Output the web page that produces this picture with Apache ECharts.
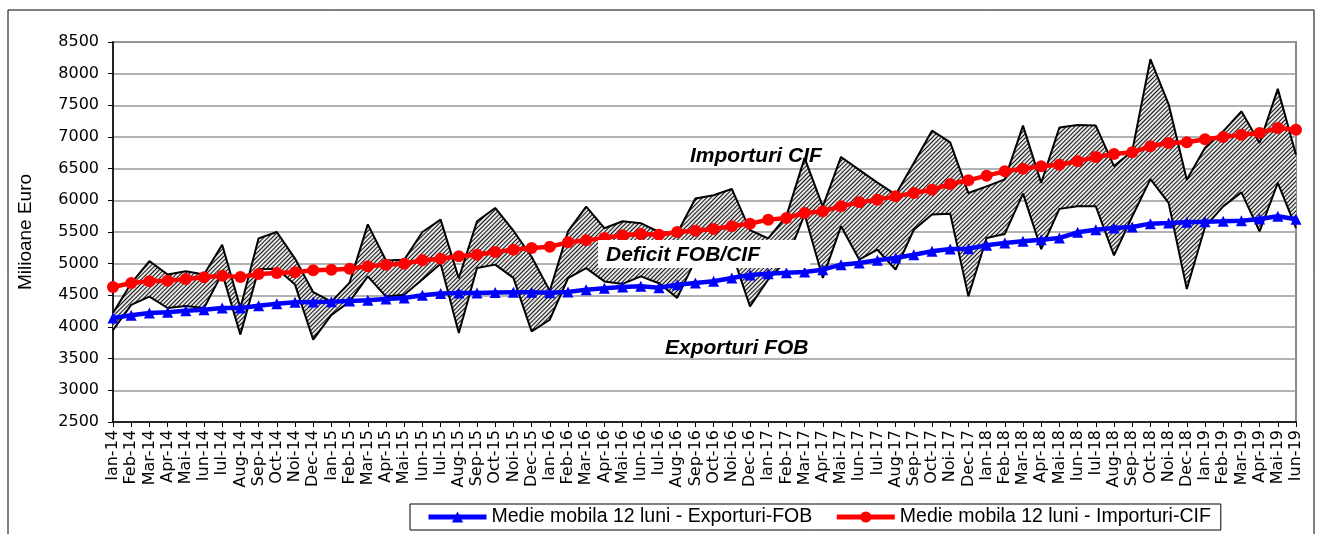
<!DOCTYPE html>
<html>
<head>
<meta charset="utf-8">
<script src="https://cdn.jsdelivr.net/npm/echarts@6/dist/echarts.min.js"></script>
<style>
  html, body { margin: 0; padding: 0; background: #fff; }
  #chart { width: 1320px; height: 534px; }
</style>
</head>
<body>
<div id="chart"></div>
<script>
// luni: Ian-14 ... Iun-19
var luni = ['Ian', 'Feb', 'Mar', 'Apr', 'Mai', 'Iun', 'Iul', 'Aug', 'Sep', 'Oct', 'Noi', 'Dec'];
var ani = ['14', '15', '16', '17', '18', '19'];
var categorii = [];
ani.forEach(function (an) {
    luni.forEach(function (l) { categorii.push(l + '-' + an); });
});
categorii = categorii.slice(0, 66);

// valori lunare, milioane euro
var importuri = [
    4220, 4690, 5040, 4830, 4880, 4830, 5300, 4300, 5400, 5500, 5080, 4550,
    4400, 4700, 5620, 5050, 5060, 5500, 5695, 4770, 5670, 5880, 5520, 5110,
    4570, 5510, 5900, 5560, 5670, 5640, 5500, 5480, 6030, 6080, 6180, 5530,
    5400, 5750, 6670, 5900, 6685, 6480, 6280, 6090, 6590, 7100, 6915, 6115,
    6220, 6330, 7180, 6275, 7150, 7190, 7180, 6540, 6775, 8230, 7520, 6325,
    6830, 7090, 7405, 6905, 7760, 6720
];
var exporturi = [
    3950, 4350, 4480, 4300, 4330, 4300, 4850, 3880, 4910, 4920, 4670, 3800,
    4190, 4400, 4800, 4480, 4510, 4750, 5000, 3905, 4930, 4985, 4775, 3930,
    4115, 4770, 4930, 4720, 4680, 4800, 4690, 4460, 5060, 5050, 5180, 4325,
    4750, 5050, 5780, 4775, 5590, 5065, 5220, 4905, 5535, 5775, 5790, 4485,
    5405, 5470, 6105, 5230, 5865, 5905, 5905, 5130, 5745, 6335, 5960, 4600,
    5580, 5905, 6125, 5510, 6275, 5565
];

// medii mobile 12 luni
var medieExport = [
    4142, 4184, 4221, 4232, 4258, 4274, 4300, 4300, 4337, 4368, 4390, 4395,
    4400, 4410, 4421, 4442, 4458, 4500, 4530, 4535, 4537, 4545, 4547, 4547,
    4540, 4553, 4590, 4611, 4632, 4642, 4621, 4668, 4695, 4721, 4774, 4821,
    4840, 4855, 4868, 4905, 4984, 5011, 5053, 5090, 5142, 5195, 5232, 5235,
    5290, 5326, 5353, 5379, 5405, 5495, 5537, 5563, 5579, 5632, 5642, 5653,
    5660, 5668, 5679, 5705, 5750, 5700
];
var medieImport = [
    4632, 4695, 4721, 4732, 4758, 4784, 4811, 4790, 4837, 4853, 4863, 4895,
    4905, 4921, 4958, 4984, 5000, 5053, 5079, 5116, 5142, 5184, 5221, 5247,
    5268, 5337, 5368, 5405, 5447, 5468, 5458, 5500, 5521, 5547, 5590, 5632,
    5695, 5721, 5800, 5826, 5905, 5968, 6011, 6063, 6116, 6168, 6258, 6316,
    6390, 6458, 6500, 6537, 6563, 6616, 6684, 6732, 6758, 6853, 6905, 6916,
    6963, 7000, 7037, 7063, 7142, 7116
];

// diferenta, pentru zona hasurata dintre cele doua curbe
var deficit = importuri.map(function (v, i) { return v - exporturi[i]; });

var myChart = echarts.init(document.getElementById('chart'));
var fontAx = 'DejaVu Sans';
var fontTx = '"Liberation Sans", Arial, sans-serif';

var option = {
    animation: false,
    backgroundColor: '#fff',
    grid: {
        left: 113, right: 24, top: 42, bottom: 112,
        show: true, borderColor: '#888', borderWidth: 2, backgroundColor: 'transparent'
    },
    legend: {
        data: ['Medie mobila 12 luni - Exporturi-FOB', 'Medie mobila 12 luni - Importuri-CIF'],
        left: 410, top: 504,
        padding: [3, 10, 3, 16],
        itemGap: 22,
        itemWidth: 58, itemHeight: 14,
        borderColor: '#000', borderWidth: 1,
        lineStyle: { width: 5 },
        textStyle: { fontFamily: fontTx, fontSize: 19.5, color: '#000' }
    },
    xAxis: {
        type: 'category',
        data: categorii,
        boundaryGap: false,
        axisLine: { lineStyle: { color: '#000', width: 1.5 } },
        axisTick: { show: true, interval: 0, length: 5, lineStyle: { color: '#000' } },
        axisLabel: {
            interval: 0, rotate: 90, margin: 8,
            fontFamily: fontAx, fontSize: 16, color: '#000'
        },
        splitLine: { show: false }
    },
    yAxis: {
        type: 'value',
        min: 2500, max: 8500, interval: 500,
        name: 'Milioane Euro',
        nameLocation: 'middle',
        nameGap: 78,
        nameTextStyle: { fontFamily: fontTx, fontSize: 19, color: '#000' },
        axisLine: { show: true, lineStyle: { color: '#000', width: 1.5 } },
        axisTick: { show: true, length: 5, lineStyle: { color: '#000' } },
        axisLabel: {
            margin: 14, fontFamily: fontAx, fontSize: 16, color: '#000',
            formatter: function (v) { return String(v); }
        },
        splitLine: { lineStyle: { color: '#999', width: 1.5 } }
    },
    series: [
        {
            name: 'Exporturi FOB',
            type: 'line',
            data: exporturi,
            stack: 'banda',
            stackStrategy: 'all',
            symbol: 'none',
            lineStyle: { color: '#000', width: 2 },
            itemStyle: { color: '#000' },
            z: 2
        },
        {
            name: 'Deficit',
            type: 'line',
            data: deficit,
            stack: 'banda',
            stackStrategy: 'all',
            symbol: 'none',
            lineStyle: { color: '#000', width: 2 },
            itemStyle: {
                color: '#000',
                decal: {
                    symbol: 'rect',
                    color: '#111',
                    dashArrayX: [1, 0],
                    dashArrayY: [1, 2],
                    rotation: -Math.PI / 4
                }
            },
            areaStyle: { color: '#e6e6e6', opacity: 1 },
            z: 2
        },
        {
            name: 'Medie mobila 12 luni - Exporturi-FOB',
            type: 'line',
            data: medieExport,
            symbol: 'triangle',
            symbolSize: 11,
            lineStyle: { color: '#0000ff', width: 4.5 },
            itemStyle: { color: '#0000ff' },
            z: 4
        },
        {
            name: 'Medie mobila 12 luni - Importuri-CIF',
            type: 'line',
            data: medieImport,
            symbol: 'circle',
            symbolSize: 12,
            lineStyle: { color: '#ff0000', width: 4.5 },
            itemStyle: { color: '#ff0000' },
            z: 4
        }
    ],
    graphic: [
        {
            type: 'rect', z: 100, silent: true,
            shape: { x: 8, y: 10, width: 1306, height: 540 },
            style: { fill: 'none', stroke: '#000', lineWidth: 1 }
        },
        {
            type: 'text', z: 100, left: 690, top: 146,
            style: { text: 'Importuri CIF', font: 'italic bold 21px ' + fontTx, fill: '#000' }
        },
        {
            type: 'rect', z: 99, silent: true,
            shape: { x: 598, y: 240, width: 212, height: 28 },
            style: { fill: '#fff' }
        },
        {
            type: 'text', z: 100, left: 606, top: 245,
            style: { text: 'Deficit FOB/CIF', font: 'italic bold 21px ' + fontTx, fill: '#000' }
        },
        {
            type: 'text', z: 100, left: 665, top: 338,
            style: { text: 'Exporturi FOB', font: 'italic bold 21px ' + fontTx, fill: '#000' }
        }
    ]
};
myChart.setOption(option);
</script>
</body>
</html>
